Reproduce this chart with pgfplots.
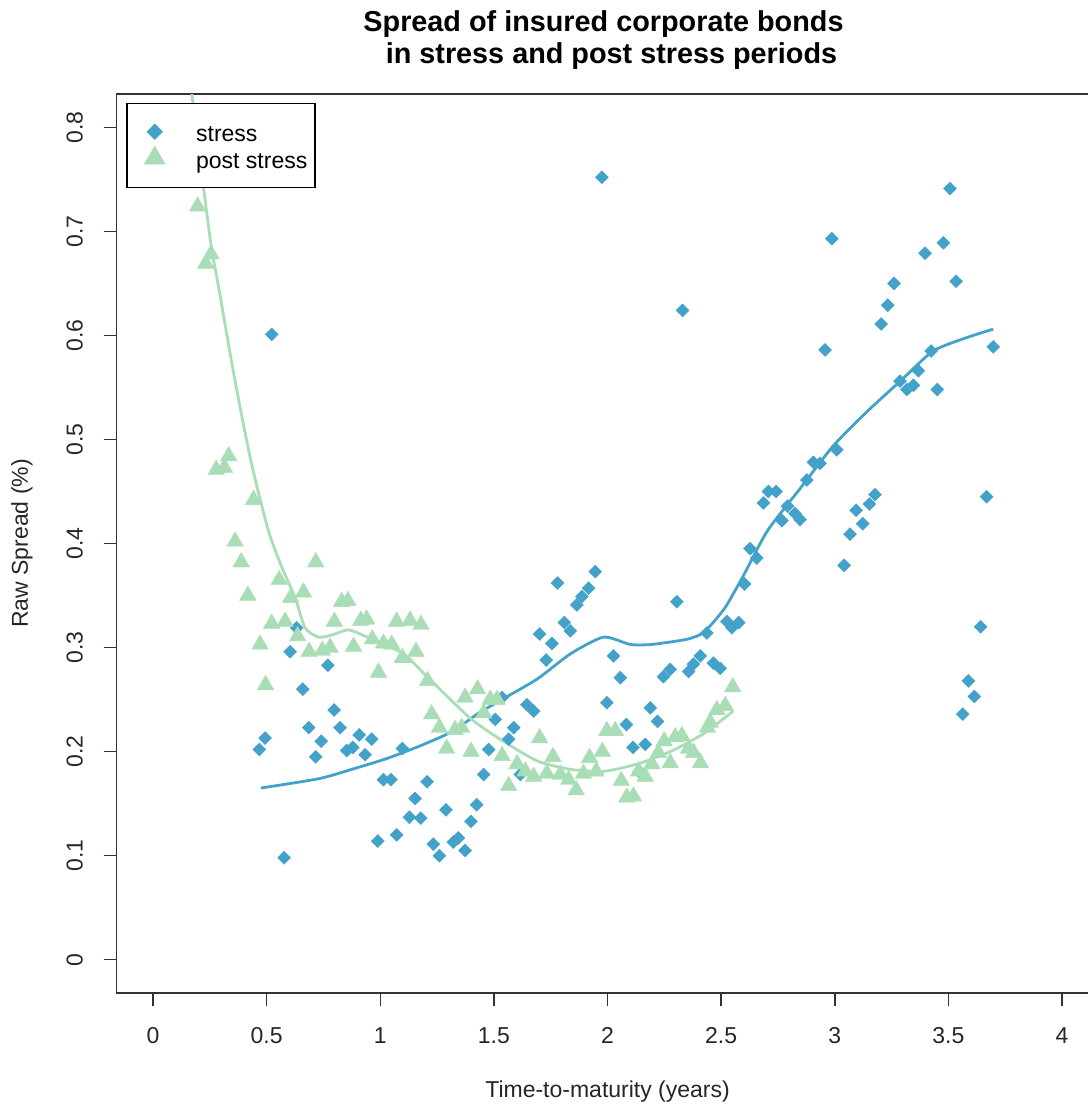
\documentclass[border=0pt]{standalone}
\usepackage{fontspec}
\setmainfont{Liberation Sans}
\usepackage{pgfplots}
\pgfplotsset{compat=1.18}
\definecolor{sblue}{HTML}{43A2CA}
\definecolor{pgreen}{HTML}{A8DDB5}
\definecolor{frame}{HTML}{333333}
\pgfplotsset{mylegimg/.style={legend image code/.code={\path[draw=none,fill=none] (-10.1pt,-3pt) rectangle (4.5pt,12.45pt); \draw[##1, mark size=#1] plot coordinates {(0pt,5pt)};}}}
\begin{document}
\begin{tikzpicture}
\useasboundingbox (0,0) rectangle (544pt,552.5pt);
\begin{axis}[
  at={(58.35pt,56pt)}, anchor=south west,
  scale only axis, width=490.85pt, height=449.5pt,
  xmin=-0.16, xmax=4.16, ymin=-0.032, ymax=0.832,
  xtick={0,0.5,1,1.5,2,2.5,3,3.5,4},
  ytick={0,0.1,0.2,0.3,0.4,0.5,0.6,0.7,0.8},
  xtick pos=bottom, ytick pos=left,
  tick align=outside, major tick length=6.5pt,
  axis line style={frame, line width=0.75pt},
  tick style={frame, line width=0.75pt},
  /pgf/number format/assume math mode=true,
  tick label style={font=\fontsize{11.5}{13}\selectfont, text=black!85},
  xticklabel style={anchor=north, inner sep=0pt, yshift=-10.5pt},
  yticklabel style={xshift=-10.2pt, rotate=90, anchor=south, inner sep=0pt},
  xlabel={Time-to-maturity (years)},
  ylabel={Raw Spread (\%)},
  label style={font=\fontsize{11.5}{13}\selectfont, text=black!85},
  xlabel style={at={(axis description cs:0.5,-0.1098)}, anchor=center},
  ylabel style={at={(axis description cs:-0.09647,0.5)}, anchor=center},
  legend style={at={(axis description cs:0.00978,0.99032)}, anchor=north west,
    draw=black, line width=0.75pt, fill=white,
    font=\fontsize{11.5}{13}\selectfont,
    inner xsep=3.75pt, inner ysep=6.7pt, row sep=-2.3pt,
    nodes={inner sep=0pt, anchor=base west},
    /tikz/every odd column/.append style={column sep=15.5pt}},
]
\addplot[only marks, mark=square*, mark size=2.3pt,
  mark options={rotate=45, fill=sblue, draw=sblue, line width=0.2pt},
  mylegimg=2.8pt]
coordinates {
(0.468,0.202)(0.493,0.213)(0.522,0.601)(0.577,0.098)(0.603,0.296)(0.632,0.319)
(0.659,0.260)(0.685,0.223)(0.716,0.195)(0.740,0.210)(0.769,0.283)(0.797,0.240)
(0.823,0.223)(0.852,0.201)(0.879,0.204)(0.907,0.216)(0.933,0.197)(0.962,0.212)
(0.989,0.114)(1.014,0.173)(1.047,0.173)(1.072,0.120)(1.097,0.203)(1.128,0.137)
(1.153,0.155)(1.178,0.136)(1.206,0.171)(1.233,0.111)(1.260,0.100)(1.289,0.144)
(1.321,0.113)(1.343,0.117)(1.373,0.105)(1.399,0.133)(1.424,0.149)(1.455,0.178)
(1.477,0.202)(1.506,0.231)(1.536,0.252)(1.565,0.212)(1.587,0.223)(1.616,0.178)
(1.645,0.245)(1.675,0.239)(1.701,0.313)(1.730,0.288)(1.755,0.304)(1.780,0.362)
(1.810,0.324)(1.836,0.316)(1.865,0.341)(1.887,0.349)(1.917,0.357)(1.946,0.373)
(1.975,0.752)(1.997,0.247)(2.026,0.292)(2.056,0.271)(2.083,0.226)(2.112,0.204)
(2.140,0.181)(2.166,0.207)(2.188,0.242)(2.220,0.229)(2.246,0.272)(2.276,0.279)
(2.305,0.344)(2.330,0.624)(2.357,0.277)(2.378,0.284)(2.408,0.292)(2.437,0.314)
(2.466,0.285)(2.496,0.280)(2.525,0.325)(2.547,0.319)(2.577,0.324)(2.603,0.361)
(2.627,0.395)(2.657,0.386)(2.686,0.439)(2.708,0.450)(2.742,0.450)(2.767,0.422)
(2.792,0.436)(2.825,0.429)(2.847,0.423)(2.877,0.461)(2.906,0.478)(2.935,0.477)
(2.957,0.586)(2.987,0.693)(3.009,0.490)(3.041,0.379)(3.067,0.409)(3.094,0.432)
(3.123,0.419)(3.152,0.438)(3.177,0.447)(3.204,0.611)(3.233,0.629)(3.261,0.650)
(3.287,0.556)(3.317,0.548)(3.346,0.552)(3.368,0.566)(3.397,0.679)(3.424,0.585)
(3.451,0.548)(3.478,0.689)(3.507,0.741)(3.534,0.652)(3.563,0.236)(3.588,0.268)
(3.614,0.253)(3.642,0.320)(3.668,0.445)(3.697,0.589)
};
\addlegendentry{stress}
\addplot[only marks, mark=triangle*, mark size=4.8pt,
  mark options={fill=pgreen, draw=pgreen, line width=0.2pt},
  mylegimg=6pt]
coordinates {
(0.196,0.724)(0.232,0.669)(0.255,0.678)(0.278,0.471)(0.314,0.473)(0.333,0.484)
(0.361,0.402)(0.388,0.382)(0.417,0.350)(0.442,0.442)(0.471,0.303)(0.495,0.264)
(0.522,0.323)(0.555,0.365)(0.581,0.325)(0.606,0.348)(0.636,0.311)(0.662,0.353)
(0.687,0.296)(0.716,0.382)(0.745,0.297)(0.779,0.300)(0.798,0.325)(0.830,0.344)
(0.857,0.345)(0.882,0.301)(0.914,0.326)(0.940,0.327)(0.965,0.308)(0.992,0.276)
(1.014,0.304)(1.050,0.303)(1.072,0.325)(1.097,0.290)(1.131,0.326)(1.157,0.296)
(1.179,0.322)(1.208,0.268)(1.226,0.236)(1.260,0.223)(1.292,0.203)(1.329,0.221)
(1.358,0.223)(1.373,0.252)(1.399,0.200)(1.428,0.260)(1.455,0.237)(1.484,0.250)
(1.514,0.250)(1.536,0.196)(1.565,0.167)(1.602,0.188)(1.638,0.181)(1.675,0.176)
(1.701,0.213)(1.733,0.179)(1.760,0.195)(1.792,0.178)(1.829,0.173)(1.862,0.163)
(1.894,0.179)(1.921,0.194)(1.950,0.181)(1.977,0.200)(1.997,0.220)(2.034,0.220)
(2.060,0.172)(2.085,0.156)(2.114,0.157)(2.137,0.181)(2.166,0.176)(2.195,0.188)
(2.224,0.199)(2.249,0.210)(2.276,0.189)(2.298,0.214)(2.327,0.215)(2.357,0.203)
(2.379,0.199)(2.409,0.189)(2.440,0.223)(2.452,0.228)(2.481,0.240)(2.518,0.244)
(2.551,0.262)
};
\addlegendentry{post stress}
\addplot[forget plot, no markers, smooth, tension=0.4, color=sblue, line width=1.4pt]
coordinates {
(0.475,0.165)(0.730,0.174)(0.875,0.183)(1.024,0.193)(1.169,0.205)(1.314,0.219)
(1.433,0.237)(1.543,0.251)(1.692,0.270)(1.837,0.294)(1.982,0.310)(2.100,0.303)
(2.195,0.303)(2.350,0.308)(2.420,0.314)(2.480,0.328)(2.525,0.341)(2.600,0.370)
(2.703,0.412)(2.848,0.453)(2.994,0.494)(3.143,0.527)(3.288,0.556)(3.433,0.585)
(3.582,0.598)(3.697,0.606)
};
\addplot[forget plot, no markers, smooth, tension=0.4, color=pgreen, line width=1.4pt]
coordinates {
(0.169,0.835)(0.222,0.742)(0.257,0.684)(0.284,0.652)(0.361,0.556)(0.434,0.476)
(0.508,0.412)(0.567,0.377)(0.625,0.348)(0.669,0.319)(0.728,0.310)(0.786,0.312)
(0.860,0.317)(0.933,0.311)(1.021,0.303)(1.109,0.293)(1.197,0.274)(1.396,0.232)
(1.541,0.210)(1.691,0.191)(1.836,0.183)(1.981,0.181)(2.130,0.188)(2.276,0.200)
(2.421,0.217)(2.553,0.239)
};
\end{axis}
\node[anchor=base, font=\bfseries\fontsize{14.4}{17}\selectfont] at (303.75pt,536.65pt) {Spread of insured corporate bonds\hspace*{0.278em}};
\node[anchor=base, font=\bfseries\fontsize{14.4}{17}\selectfont] at (303.75pt,520.85pt) {\hspace*{0.278em}in stress and post stress periods};
\end{tikzpicture}
\end{document}
